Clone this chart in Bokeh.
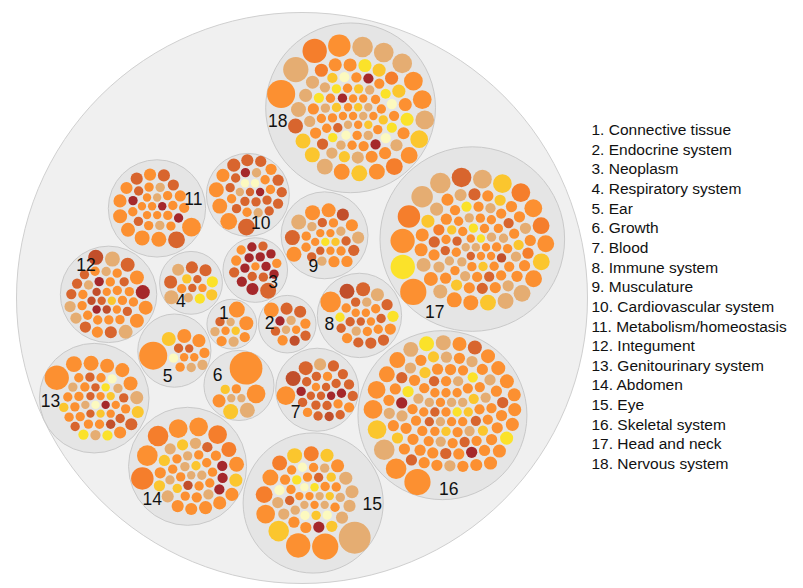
import math
from bokeh.plotting import figure
from bokeh.models import Range1d
from bokeh.embed import file_html
from bokeh.resources import INLINE
from bokeh.core.properties import value

# ---------------- data ----------------
group_names = ["Connective tissue", "Endocrine system", "Neoplasm", "Respiratory system", "Ear",
               "Growth", "Blood", "Immune system", "Musculature", "Cardiovascular system",
               "Metabolism/homeostasis", "Integument", "Genitourinary system", "Abdomen", "Eye",
               "Skeletal system", "Head and neck", "Nervous system"]

# leaf sizes (area units) and leaf category codes, one pair per group
sizes_01 = [72, 56, 25, 20, 25, 20, 20, 30, 30, 30]
cats_01 = "OOBOTGTOTO"
sizes_02 = [64, 42, 42, 25, 25, 30, 25, 20, 20, 30, 30, 30]
cats_02 = "OBBTMOBTORBO"
sizes_03 = [72, 42, 30, 30, 30, 25, 25, 25, 20, 25, 25, 25, 25, 25, 25, 25, 25, 25]
cats_03 = "BMOBMMMMOMBBMOMBMO"
sizes_04 = [42, 36, 42, 49, 25, 25, 42, 20, 20, 20, 56, 25, 30, 36]
cats_04 = "BGBBGOTBOBTTYY"
sizes_05 = [225, 56, 56, 25, 20, 49, 25, 20, 20, 30, 30, 25, 25]
cats_05 = "OOGBOOPOBTOOT"
sizes_06 = [306, 100, 64, 64, 49, 25, 25, 20, 20]
cats_06 = "OOGTOOGTT"
sizes_07 = [100, 64, 56, 42, 36, 30, 30, 30, 30, 25, 25, 25, 25, 20, 20, 20, 20, 20,
            25, 25, 25, 25, 25, 25, 25, 25, 25, 25]
cats_07 = "ORBTBOBBBBBOMBMBOBBOBBMBOBRB"
sizes_08 = [121, 64, 56, 49, 36, 36, 36, 36, 36, 30, 30, 25, 25, 25, 20, 20, 20, 20,
            25, 25, 25, 25, 25, 25, 25, 25]
cats_08 = "ORBTBBOYBOBBTOBOOOOBOTBOYB"
sizes_09 = [64, 64, 64, 64, 56, 42, 42, 42, 36, 36, 36, 25, 20, 20, 25, 25, 25, 25, 20, 20,
            20, 25, 25, 20, 20, 25, 25, 25]
cats_09 = "OTBOOTOROOBOYGBTOBOOOTOBOOBT"
sizes_10 = [81, 81, 64, 64, 49, 49, 42, 36, 36, 36, 30, 30, 25, 25, 25, 25, 25, 25, 25, 25,
            20, 20, 20, 20, 20, 25, 25, 25, 25, 25, 25]
cats_10 = "OBOOBOBBOBBBBBBOOTMBBMPPTBOBOTB"
sizes_11 = [100, 81, 64, 64, 56, 56, 49, 42, 42, 42, 42, 36, 36, 30, 25, 25, 25, 25, 25, 25,
            25, 20, 20, 20, 20, 20, 20, 20, 25, 25, 25, 25, 25, 25]
cats_11 = "OBOOOOOBOBOOBOOOOTOBMOMTOOOOOBOTOM"
sizes_12 = [64, 64, 56, 56, 56, 56, 42, 36, 36, 36, 36, 30, 30, 56, 56, 25, 25, 25, 25, 25,
            25, 25, 25, 25, 25, 25, 25, 25, 20, 20, 20, 20, 20, 20, 20, 20, 25, 25, 25, 25,
            25, 25]
cats_12 = "TRTOOMBTTBOBBOBOOOMTOOOOOOBOBGORRMROOBOTOB"
sizes_13 = [169, 72, 64, 56, 56, 56, 49, 42, 42, 42, 30, 30, 25, 25, 25, 30, 25, 25, 25, 25,
            25, 25, 25, 25, 25, 20, 20, 20, 20, 20, 20, 20, 20, 20, 20, 20, 20,
            25, 25, 25, 25, 25, 25, 25, 25]
cats_13 = "OOOOOOTOBGYTOOOYOOORBOBTPPMOBTBGOOGYBOBOTOGOB"
sizes_14 = [144, 121, 121, 100, 100, 100, 64, 64, 49, 49, 49, 49, 42, 42, 42, 36, 36, 36, 36,
            30, 30, 30, 30, 30, 25, 25, 25, 25, 25, 25, 25, 25, 25, 20,
            25, 25, 25, 30, 30, 36, 36, 25, 25, 25, 25]
cats_14 = "DDODOOODOOOGTOOTGTGOTMMMTGTOROOOOTOTOOBOGOTGO"
sizes_15 = [289, 196, 169, 121, 100, 81, 72, 64, 64, 64, 49, 49, 49, 49, 42, 42, 36, 36, 36,
            36, 36, 36, 30, 30, 25, 25, 25, 25, 25, 25, 25, 25, 25, 25, 20, 20, 20, 20, 20,
            20, 20, 20, 20, 25, 25, 25, 25, 25, 25, 25, 25]
cats_15 = "TOOGODODGDTTOGTTTTOOMGOPOBOYOBTPGPOTYPOTOTGOTOGTOPO"
sizes_16 = [196, 121, 121, 100, 100, 90, 72, 72, 64, 64, 64, 56, 56, 56, 56, 56, 49, 49, 49,
            49, 49, 49, 42,
            36, 36, 36, 36, 36, 36, 36, 36, 36, 36, 36, 36, 36, 36, 36, 36, 36, 36, 36, 36,
            36, 36, 36, 36, 36, 36, 36, 36, 36, 36, 36, 36, 36, 36, 36, 36, 36, 36, 36, 36,
            30, 30, 30, 30, 30, 30, 30, 30, 30, 30, 30, 30, 30, 30,
            30, 30, 30, 30, 30, 30, 30, 30, 30, 30, 30, 30,
            25, 25, 25, 25, 25, 25, 25, 25, 25, 25, 25, 25, 25, 25, 25, 25, 25, 25]
cats_16 = ("OTOOGOOOTYTOOOBOOOYOOOO" "OOGOYMTOOOOBOMOOOOBOTO" "TOTGOTBOOTOGOBOOTO"
           "OTBOGOTOBOTOOO" "OTOBOGOOTOYO" "OYTOBTOOGTOO" "OTOBOG")
sizes_17 = [196, 169, 169, 144, 132, 121, 110, 100, 100, 100, 90, 81, 81, 81, 81, 81, 72, 72,
            64, 64, 56, 56, 56, 49, 49, 49, 49, 42, 42, 42,
            36, 36, 36, 36, 36, 36, 36, 36, 36, 36, 36, 36, 36, 36, 36, 36, 36, 36, 36, 36,
            30, 30, 30, 30, 30, 30, 30, 30, 30, 30, 30, 30, 30, 30,
            25, 25, 25, 25, 25, 25, 25, 25, 25, 25, 25, 25, 25, 25, 25, 25,
            20, 20, 20, 20, 20, 20, 20, 20,
            25, 25, 25, 25, 25, 25, 25, 25]
cats_17 = ("OOYDTTBDGTOTOGODGTOOTOTTGOOBTO" "ODBOTOGOBOTOODOTOOGO" "TOBOOTGOBOTOYO"
           "OTOYOBOTOGOROTOO" "TOYOTBOO" "OTOGOBTO")
sizes_18 = [110, 100, 100, 90, 81, 81, 72, 72, 72, 72, 64, 64, 64, 64, 225, 182, 169, 144, 121,
            110, 100,
            49, 49, 42, 49, 49, 49, 42, 42, 42, 36, 36, 36, 36, 36, 36, 49, 49, 49, 49, 49, 42, 49,
            30, 30, 30, 30, 30, 30, 30, 30, 30, 30, 30, 30, 30, 30,
            25, 25, 25, 25, 25, 25, 25, 25, 25, 25, 25, 25, 25, 25, 25, 25, 25, 25,
            20, 20, 20, 20, 20, 20, 20, 20, 20, 20, 20, 20,
            25, 25, 25, 25]
cats_18 = ("TTOGDOTOGOTBGGOTDOTTO" "YOTGDGOOTOTOBTGYOODTOT" "OMPYOPYOMOPGTY"
           "MGOBPOTOGOOTGOYOTO" "OTGOOTOGOTOO" "OYTO")

all_sizes = [sizes_01, sizes_02, sizes_03, sizes_04, sizes_05, sizes_06, sizes_07, sizes_08,
             sizes_09, sizes_10, sizes_11, sizes_12, sizes_13, sizes_14, sizes_15, sizes_16,
             sizes_17, sizes_18]
all_cats = [cats_01, cats_02, cats_03, cats_04, cats_05, cats_06, cats_07, cats_08, cats_09,
            cats_10, cats_11, cats_12, cats_13, cats_14, cats_15, cats_16, cats_17, cats_18]

# ---------------- style ----------------
PALETTE = {"P": "#fcf9bf", "Y": "#fbe22a", "G": "#fbc62e", "T": "#e5ad72", "O": "#fc9031",
           "D": "#f57e2c", "B": "#d8652e", "R": "#c24f2b", "M": "#a5282b"}
PADDING = 2.0           # px between sibling circles
DIAM = 571.0            # diameter of the outer circle, px
W, H = 803, 588
CX_PX, CY_PX = 301.5, 297.5   # centre of the outer circle on the page


# ---------------- hierarchical circle packing (front chain, ascending order) ----------------
class Nd:
    def __init__(self, r=0.0, children=None):
        self.r = r
        self.x = 0.0
        self.y = 0.0
        self.children = children
        self.nx = None
        self.pv = None


def pack_place(a, b, c):
    db = a.r + c.r
    dx = b.x - a.x
    dy = b.y - a.y
    if db and (dx or dy):
        da = b.r + c.r
        dc = dx * dx + dy * dy
        da *= da
        db *= db
        x = 0.5 + (db - da) / (2 * dc)
        dd = db - dc
        y = math.sqrt(max(0.0, 2 * da * (db + dc) - dd * dd - da * da)) / (2 * dc)
        c.x = a.x + x * dx + y * dy
        c.y = a.y + x * dy - y * dx
    else:
        c.x = a.x + db
        c.y = a.y


def pack_intersects(a, b):
    dx = b.x - a.x
    dy = b.y - a.y
    dr = a.r + b.r
    return 0.999 * dr * dr > dx * dx + dy * dy


def pack_insert(a, b):
    c = a.nx
    a.nx = b
    b.pv = a
    b.nx = c
    c.pv = b


def pack_splice(a, b):
    a.nx = b
    b.pv = a


def pack_siblings(node):
    nodes = node.children
    if not nodes:
        return
    n = len(nodes)
    for nd in nodes:
        nd.nx = nd
        nd.pv = nd
    bb = [float("inf"), float("-inf"), float("inf"), float("-inf")]

    def bound(nd):
        bb[0] = min(nd.x - nd.r, bb[0]); bb[1] = max(nd.x + nd.r, bb[1])
        bb[2] = min(nd.y - nd.r, bb[2]); bb[3] = max(nd.y + nd.r, bb[3])

    a = nodes[0]
    a.x = -a.r
    a.y = 0.0
    bound(a)
    if n > 1:
        b = nodes[1]
        b.x = b.r
        b.y = 0.0
        bound(b)
        if n > 2:
            c = nodes[2]
            pack_place(a, b, c)
            bound(c)
            pack_insert(a, c)
            a.pv = c
            pack_insert(c, b)
            b = a.nx
            i = 3
            guard = 0
            while i < n and guard < 100000:
                guard += 1
                c = nodes[i]
                pack_place(a, b, c)
                isect = False
                s1 = 1
                s2 = 1
                j = b.nx
                while j is not b:
                    if pack_intersects(j, c):
                        isect = True
                        break
                    j = j.nx
                    s1 += 1
                if isect:
                    k = a.pv
                    while k is not j.pv:
                        if pack_intersects(k, c):
                            break
                        k = k.pv
                        s2 += 1
                    if s1 < s2 or (s1 == s2 and b.r < a.r):
                        b = j
                        pack_splice(a, b)
                    else:
                        a = k
                        pack_splice(a, b)
                else:
                    pack_insert(a, c)
                    b = c
                    bound(c)
                    i += 1
    cx = (bb[0] + bb[1]) / 2
    cy = (bb[2] + bb[3]) / 2
    cr = 0.0
    for c in nodes:
        c.x -= cx
        c.y -= cy
        cr = max(cr, c.r + math.hypot(c.x, c.y))
    node.r = cr


def visit_after(node, fn):
    if node.children:
        for ch in node.children:
            visit_after(ch, fn)
    fn(node)


# build hierarchy: root -> groups (legend order) -> leaves (ascending size)
group_nodes = []
for sizes, cats in zip(all_sizes, all_cats):
    assert len(sizes) == len(cats), (len(sizes), len(cats))
    items = sorted(zip(sizes, cats), key=lambda t: t[0])
    leaves = []
    for v, cat in items:
        lf = Nd(math.sqrt(v))
        lf.color = PALETTE[cat]
        leaves.append(lf)
    group_nodes.append(Nd(0.0, leaves))
root = Nd(0.0, group_nodes)

visit_after(root, pack_siblings)
dr = PADDING * (2 * root.r / DIAM) / 2


def add_dr(nd):
    nd.r += dr


def sub_dr(nd):
    nd.r -= dr


visit_after(root, add_dr)
visit_after(root, pack_siblings)
visit_after(root, sub_dr)
k = 1.0 / (2 * root.r / DIAM)

R0 = root.r * k
gx, gy, gr = [], [], []
lx, ly, lr, lc = [], [], [], []
lab_x, lab_y, lab_t = [], [], []
for idx, g in enumerate(group_nodes):
    Gx, Gy, Gr = g.x * k, g.y * k, g.r * k
    # page uses y downwards -> flip for the y-up plot
    gx.append(Gx); gy.append(-Gy); gr.append(Gr)
    loc = []
    for lf in g.children:
        x, y, r = Gx + lf.x * k, Gy + lf.y * k, lf.r * k
        lx.append(x); ly.append(-y); lr.append(r); lc.append(lf.color)
        loc.append((x, y, r))
    rho = Gr - 11
    best = None
    for s in range(144):
        ang = 2 * math.pi * s / 144
        px, py = Gx + rho * math.cos(ang), Gy + rho * math.sin(ang)
        clear = min(math.hypot(px - x, py - y) - r for x, y, r in loc)
        if best is None or clear > best[0] + 1e-9:
            best = (clear, px, py)
    lab_x.append(best[1]); lab_y.append(-best[2]); lab_t.append(str(idx + 1))

# ---------------- figure ----------------
p = figure(width=W, height=H, output_backend="svg", toolbar_location=None,
           x_range=Range1d(-CX_PX, W - CX_PX), y_range=Range1d(-(H - CY_PX), CY_PX),
           min_border=0)
p.axis.visible = False
p.grid.visible = False
p.outline_line_color = None
p.background_fill_color = "white"
p.border_fill_color = "white"

p.circle(x=[0], y=[0], radius=[R0], fill_color="#f0f0f0", line_color="#cfcfcf", line_width=1)
p.circle(x=gx, y=gy, radius=gr, fill_color="#e5e5e5", line_color="#c9c9c9", line_width=1)
p.circle(x=lx, y=ly, radius=lr, fill_color=lc, line_color=None)
p.text(x=lab_x, y=lab_y, text=lab_t, text_font=value("Liberation Sans"), text_font_size="17.5px",
       text_align="center", text_baseline="middle", text_color="#111111")

leg_x = [591 - CX_PX] * len(group_names)
leg_y = [CY_PX - (129 + 19.65 * i) for i in range(len(group_names))]
leg_t = ["%d. %s" % (i + 1, n) for i, n in enumerate(group_names)]
p.text(x=leg_x, y=leg_y, text=leg_t, text_font=value("Liberation Sans"), text_font_size="15.5px",
       text_align="left", text_baseline="middle", text_color="#111111")

open("out.html", "w").write(file_html(p, INLINE))
